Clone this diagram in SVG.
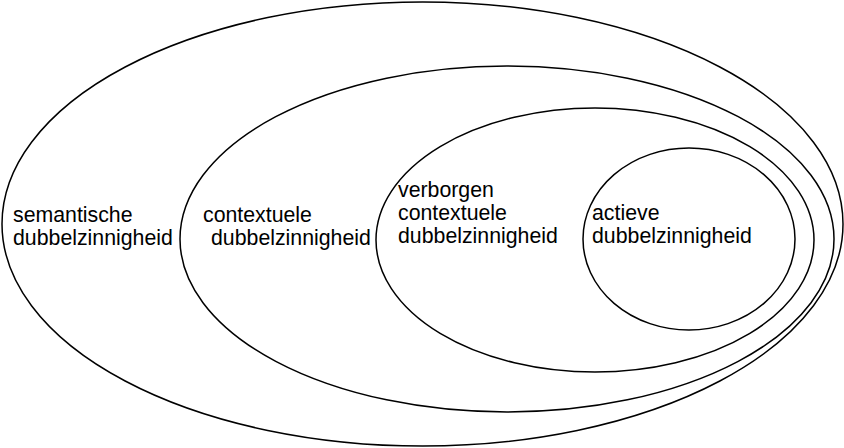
<svg xmlns="http://www.w3.org/2000/svg" width="844" height="448" viewBox="0 0 844 448">
<style>
.e{fill:none;stroke:#000;stroke-width:1.5}
.t{font-family:"Liberation Sans",Arial,sans-serif;font-size:21.3px;fill:#000}
</style>
<rect width="844" height="448" fill="#fff"/>
<g id="semantisch">
<ellipse class="e" cx="422.5" cy="224" rx="420.5" ry="222"/>
<text class="t" x="13" y="222">semantische</text>
<text class="t" x="13" y="245">dubbelzinnigheid</text>
</g>
<g id="contextueel">
<ellipse class="e" cx="507" cy="239" rx="327" ry="173"/>
<text class="t" x="203" y="222">contextuele</text>
<text class="t" x="211" y="245">dubbelzinnigheid</text>
</g>
<g id="verborgen">
<ellipse class="e" cx="595" cy="240" rx="219" ry="132"/>
<text class="t" x="398" y="197">verborgen</text>
<text class="t" x="398" y="220">contextuele</text>
<text class="t" x="398" y="243">dubbelzinnigheid</text>
</g>
<g id="actief">
<ellipse class="e" cx="689" cy="239" rx="106" ry="91"/>
<text class="t" x="592" y="220">actieve</text>
<text class="t" x="592" y="243">dubbelzinnigheid</text>
</g>
<g id="connectors"></g>
</svg>
